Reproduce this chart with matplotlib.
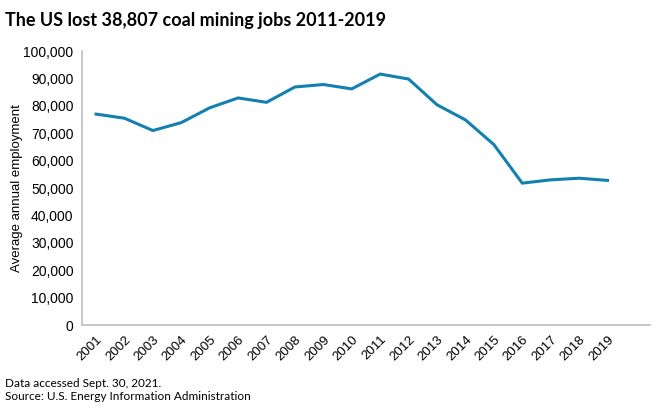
import matplotlib.pyplot as plt
import numpy as np

years = [str(y) for y in range(2001, 2020)]
jobs = [77000, 75500, 71000, 73900, 79300, 82900, 81300, 86900, 87800,
        86200, 91611, 89800, 80400, 74900, 65900, 51800, 53000, 53600,
        52804]
y_ticks = list(range(0, 100001, 10000))

LINE_COLOR = "#1380b0"
AXIS_COLOR = "#bfbfbf"


def main():
    fig = plt.figure(figsize=(6.6, 4.12), dpi=100)
    ax = fig.add_axes([0.124, 0.211, 0.861, 0.665])

    x = np.arange(len(years))
    ax.plot(x, jobs, color=LINE_COLOR, linewidth=2.2, solid_joinstyle="miter")

    # one empty category slot after 2019, like the original
    ax.set_xlim(-0.5, len(years) + 0.5)
    ax.set_ylim(0, 100000)
    ax.set_yticks(y_ticks)
    ax.set_yticklabels([f"{v:,}" for v in y_ticks], family="Liberation Sans",
                       fontsize=10)
    ax.set_xticks(x)
    ax.set_xticklabels(years, rotation=45, ha="right", rotation_mode="anchor",
                       family="Liberation Sans", fontsize=9.5)
    ax.tick_params(axis="both", length=0, pad=6)

    for side in ["top", "right"]:
        ax.spines[side].set_visible(False)
    for side in ["left", "bottom"]:
        ax.spines[side].set_color(AXIS_COLOR)
        ax.spines[side].set_linewidth(1.2)

    ax.set_ylabel("Average annual employment", family="Liberation Sans",
                  fontsize=9.5)
    ax.yaxis.set_label_coords(-0.104, 0.5)

    fig.text(0.008, 0.95, "The US lost 38,807 coal mining jobs 2011-2019",
             family="Lato", fontweight="bold", fontsize=13, va="center")
    fig.text(0.008, 0.07, "Data accessed Sept. 30, 2021.", family="Lato",
             fontsize=8.5, va="center")
    fig.text(0.008, 0.038, "Source: U.S. Energy Information Administration",
             family="Lato", fontsize=8.5, va="center")

    fig.savefig("out.png", dpi=100)


if __name__ == "__main__":
    main()
